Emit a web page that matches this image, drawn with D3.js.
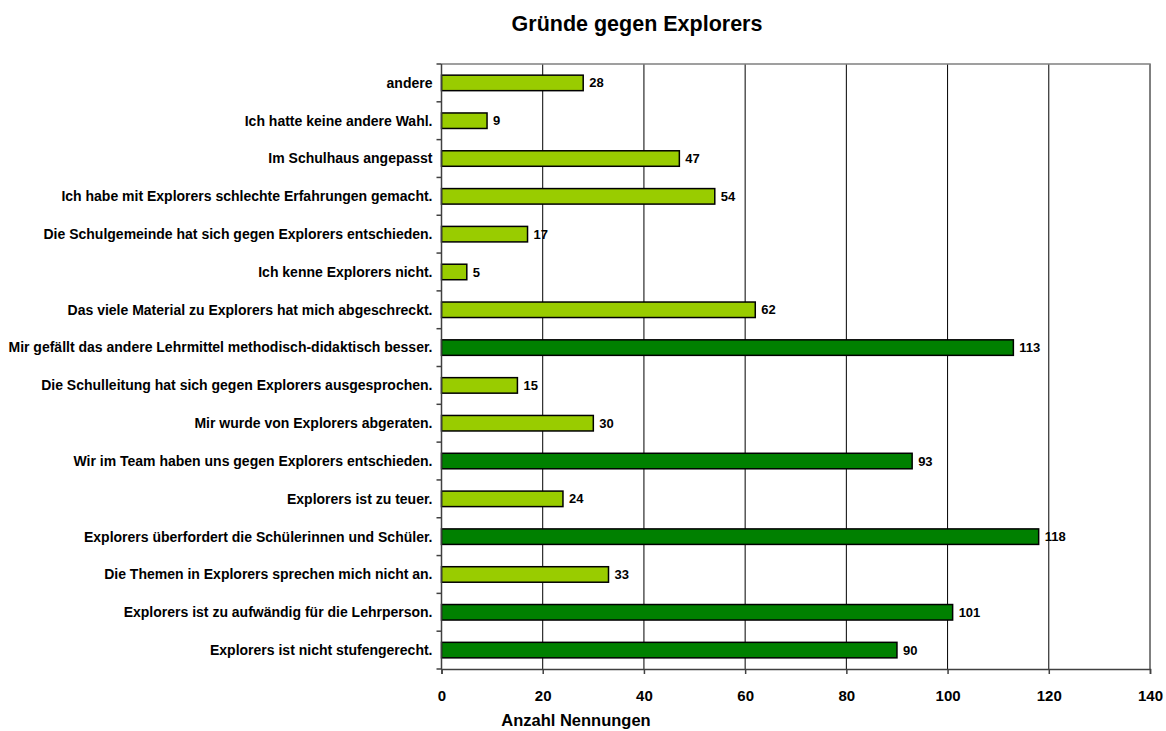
<!DOCTYPE html>
<html>
<head>
    <meta charset="utf-8">
    <title>Gründe gegen Explorers</title>
    <script src="https://d3js.org/d3.v7.min.js"></script>
    <style>
        body { margin: 0; background: #fff; }
        text { font-family: "Liberation Sans", Arial, sans-serif; font-weight: bold; }
    </style>
</head>
<body>
    <div id="chart"></div>
    <script>
        // categories, top to bottom as shown
        var categories = [
            "andere",
            "Ich hatte keine andere Wahl.",
            "Im Schulhaus angepasst",
            "Ich habe mit Explorers schlechte Erfahrungen gemacht.",
            "Die Schulgemeinde hat sich gegen Explorers entschieden.",
            "Ich kenne Explorers nicht.",
            "Das viele Material zu Explorers hat mich abgeschreckt.",
            "Mir gefällt das andere Lehrmittel methodisch-didaktisch besser.",
            "Die Schulleitung hat sich gegen Explorers ausgesprochen.",
            "Mir wurde von Explorers abgeraten.",
            "Wir im Team haben uns gegen Explorers entschieden.",
            "Explorers ist zu teuer.",
            "Explorers überfordert die Schülerinnen und Schüler.",
            "Die Themen in Explorers sprechen mich nicht an.",
            "Explorers ist zu aufwändig für die Lehrperson.",
            "Explorers ist nicht stufengerecht."
        ];
        var values = [28, 9, 47, 54, 17, 5, 62, 113, 15, 30, 93, 24, 118, 33, 101, 90];
        var xTicks = [0, 20, 40, 60, 80, 100, 120, 140];

        var W = 1166, H = 731;
        var margin = {top: 64, right: 16, bottom: 62, left: 441.5};
        var width = W - margin.left - margin.right,
            height = H - margin.top - margin.bottom;

        var svg = d3.select("#chart").append("svg")
            .attr("width", W).attr("height", H);

        svg.append("text")
            .attr("x", 637).attr("y", 31)
            .attr("text-anchor", "middle")
            .style("font-size", "21.5px")
            .text("Gründe gegen Explorers");

        var g = svg.append("g")
            .attr("transform", "translate(" + margin.left + "," + margin.top + ")");

        var x = d3.scaleLinear().domain([0, 140]).range([0, width]);
        var y = d3.scaleBand().domain(categories).range([0, height]).paddingInner(0.59).paddingOuter(0.295);

        // gridlines
        g.selectAll(".grid").data(xTicks.slice(1)).enter().append("line")
            .attr("x1", function(d) { return x(d); })
            .attr("x2", function(d) { return x(d); })
            .attr("y1", 0).attr("y2", height)
            .attr("stroke", "#000").attr("stroke-width", 1);

        // plot frame top/right
        g.append("path")
            .attr("d", "M0,0H" + width + "V" + height)
            .attr("fill", "none").attr("stroke", "#808080").attr("stroke-width", 1.5);

        // bars
        g.selectAll(".bar").data(values).enter().append("rect")
            .attr("x", x(0))
            .attr("y", function(d, i) { return y(categories[i]); })
            .attr("width", function(d) { return x(d) - x(0); })
            .attr("height", y.bandwidth())
            .attr("fill", function(d) { return d >= 90 ? "#008000" : "#99cc00"; })
            .attr("stroke", "#000").attr("stroke-width", 1.5);

        // value labels
        g.selectAll(".val").data(values).enter().append("text")
            .attr("x", function(d) { return x(d) + 6; })
            .attr("y", function(d, i) { return y(categories[i]) + y.bandwidth() / 2; })
            .attr("dy", "0.35em")
            .style("font-size", "13px")
            .text(function(d) { return d; });

        // y axis: category labels with ticks between bands
        var boundaries = d3.range(categories.length + 1).map(function(i) { return i * height / categories.length; });
        g.selectAll(".ytick").data(boundaries).enter().append("line")
            .attr("x1", -5).attr("x2", 0)
            .attr("y1", function(d) { return d; }).attr("y2", function(d) { return d; })
            .attr("stroke", "#404040").attr("stroke-width", 1.5);
        g.append("line").attr("x1", 0).attr("x2", 0).attr("y1", 0).attr("y2", height)
            .attr("stroke", "#404040").attr("stroke-width", 1.5);
        g.selectAll(".ylab").data(categories).enter().append("text")
            .attr("x", -9)
            .attr("y", function(d) { return y(d) + y.bandwidth() / 2; })
            .attr("dy", "0.35em")
            .attr("text-anchor", "end")
            .style("font-size", "14px")
            .text(function(d) { return d; });

        // x axis
        var xAxis = g.append("g")
            .attr("transform", "translate(0," + height + ")")
            .call(d3.axisBottom(x).tickValues(xTicks).tickSize(5).tickPadding(16));
        xAxis.select(".domain").attr("stroke", "#404040").attr("stroke-width", 1.5);
        xAxis.selectAll(".tick line").attr("stroke", "#404040").attr("stroke-width", 1.5);
        xAxis.selectAll(".tick text")
            .style("font-family", "'Liberation Sans', Arial, sans-serif")
            .style("font-weight", "bold")
            .style("font-size", "15px")
            .attr("fill", "#000");

        svg.append("text")
            .attr("x", 576).attr("y", 726)
            .attr("text-anchor", "middle")
            .style("font-size", "16.5px")
            .text("Anzahl Nennungen");
    </script>
</body>
</html>
